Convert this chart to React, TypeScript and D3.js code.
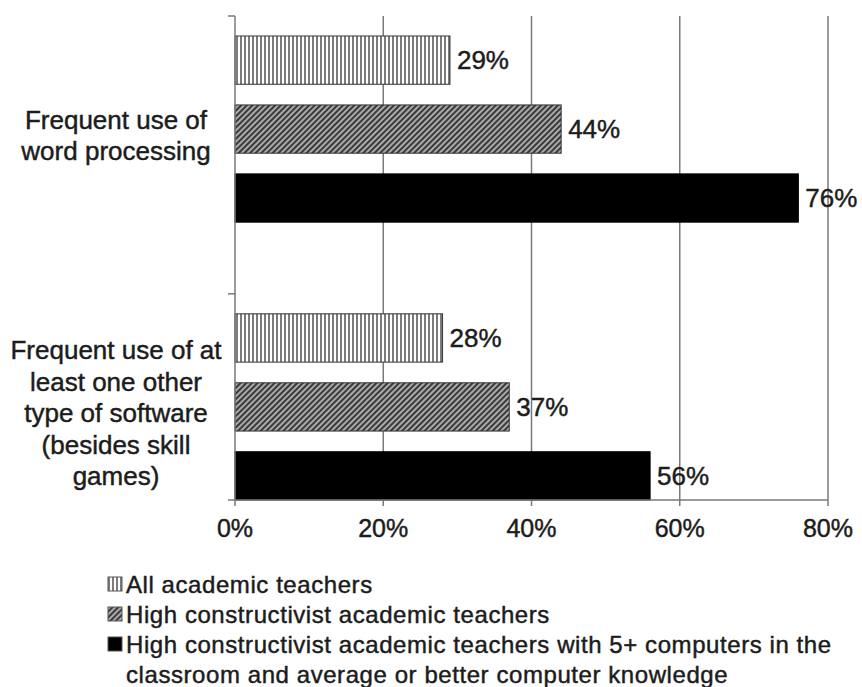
import React from 'react';
import * as d3 from 'd3';

const categories = ['Frequent use of word processing', 'Frequent use of at least one other type of software (besides skill games)'];
const categoryLines = [
  ['Frequent use of', 'word processing'],
  ['Frequent use of at', 'least one other', 'type of software', '(besides skill', 'games)'],
];
const seriesNames = [
  'All academic teachers',
  'High constructivist academic teachers',
  'High constructivist academic teachers with 5+ computers in the classroom and average or better computer knowledge',
];
const legendLines = [
  ['All academic teachers'],
  ['High constructivist academic teachers'],
  ['High constructivist academic teachers with 5+ computers in the', 'classroom and average or better computer knowledge'],
];
const allAcademic = [0.29, 0.28];
const highConstructivist = [0.44, 0.37];
const highConstructivistComputers = [0.76, 0.56];
const xTicks = [0, 0.2, 0.4, 0.6, 0.8];

const seriesValues = [allAcademic, highConstructivist, highConstructivistComputers];
const fills = ['url(#vstripe)', 'url(#hatch)', '#000'];
const FONT = '"Liberation Sans", Arial, sans-serif';

export default function App() {
  const W = 862, H = 687;
  const x0 = 235, x1 = 828;
  const plotBottom = 500;
  const groupPad = 20;
  const x = d3.scaleLinear().domain([0, 0.8]).range([x0, x1]);
  const y0 = d3.scaleBand<string>().domain(categories).range([36, plotBottom]).paddingInner(0.33);
  const y1 = d3.scaleBand<number>().domain([0, 1, 2]).range([0, y0.bandwidth()]).paddingInner(0.3);
  const plotTop = (y0(categories[0]) as number) - groupPad;
  const yTicks = [plotTop, (y0(categories[1]) as number) - groupPad, plotBottom];
  const textColor = '#1c1c1c';
  const gridColor = '#7a7a7a';
  const textStroke = { stroke: textColor, strokeWidth: 0.45 };

  return (
    <svg width={W} height={H} style={{ position: 'absolute', left: 0, top: 0, background: '#fff' }}>
      <defs>
        <pattern id="vstripe" width="4" height="4" patternUnits="userSpaceOnUse">
          <rect width="4" height="4" fill="#fff" />
          <rect x="0" width="2" height="4" fill="#7c7c7c" />
        </pattern>
        <pattern id="hatch" width="4" height="4" patternUnits="userSpaceOnUse" patternTransform="rotate(45)">
          <rect width="4" height="4" fill="#aaaaaa" />
          <rect x="0" width="2" height="4" fill="#3a3a3a" />
        </pattern>
      </defs>
      <rect width={W} height={H} fill="#fff" />
      {xTicks.slice(1).map((t) => (
        <line key={t} x1={x(t)} x2={x(t)} y1={plotTop} y2={plotBottom} stroke={gridColor} strokeWidth={1.5} />
      ))}
      {categories.map((c, ci) =>
        seriesValues.map((vals, si) => {
          const yy = (y0(c) as number) + (y1(si) as number);
          const h = y1.bandwidth();
          const w = x(vals[ci]) - x0;
          return (
            <g key={`${ci}-${si}`}>
              <rect x={x0} y={yy} width={w} height={h} fill={fills[si]} stroke={si === 2 ? '#000' : '#333'} strokeWidth={1} />
              <text x={x(vals[ci]) + 7} y={yy + h / 2} dy="0.36em" fontSize={26} fontFamily={FONT} fill={textColor} {...textStroke}>
                {d3.format('.0%')(vals[ci])}
              </text>
            </g>
          );
        })
      )}
      <line x1={x0} x2={x0} y1={plotTop} y2={plotBottom} stroke={gridColor} strokeWidth={1.5} />
      {yTicks.map((t, i) => (
        <line key={i} x1={x0 - 7} x2={x0} y1={t} y2={t} stroke={gridColor} strokeWidth={1.5} />
      ))}
      <line x1={x0} x2={x1} y1={plotBottom} y2={plotBottom} stroke={gridColor} strokeWidth={1.5} />
      {xTicks.map((t) => (
        <g key={t}>
          <line x1={x(t)} x2={x(t)} y1={plotBottom} y2={plotBottom + 6} stroke={gridColor} strokeWidth={1.5} />
          <text x={x(t)} y={537} textAnchor="middle" fontSize={25} fontFamily={FONT} fill={textColor} {...textStroke}>
            {d3.format('.0%')(t)}
          </text>
        </g>
      ))}
      {categories.map((c, ci) => {
        const lines = categoryLines[ci];
        const cy = (y0(c) as number) + y0.bandwidth() / 2 + 6;
        const lh = 31.5;
        return (
          <text key={c} textAnchor="middle" fontSize={26} fontFamily={FONT} fill={textColor} {...textStroke}>
            {lines.map((l, li) => (
              <tspan key={li} x={116} y={cy + (li - (lines.length - 1) / 2) * lh} dy="0.36em">
                {l}
              </tspan>
            ))}
          </text>
        );
      })}
      {(() => {
        let row = 0;
        return seriesNames.map((s, si) => {
          const lines = legendLines[si];
          const base = 593 + row * 30;
          row += lines.length;
          return (
            <g key={s}>
              <rect x={108} y={base - 16} width={14} height={14} fill={fills[si]} stroke="#555" strokeWidth={1} />
              <text fontSize={24} fontFamily={FONT} fill={textColor} letterSpacing={0.57} {...textStroke}>
                {lines.map((l, li) => (
                  <tspan key={li} x={126} y={base + li * 30}>{l}</tspan>
                ))}
              </text>
            </g>
          );
        });
      })()}
    </svg>
  );
}
